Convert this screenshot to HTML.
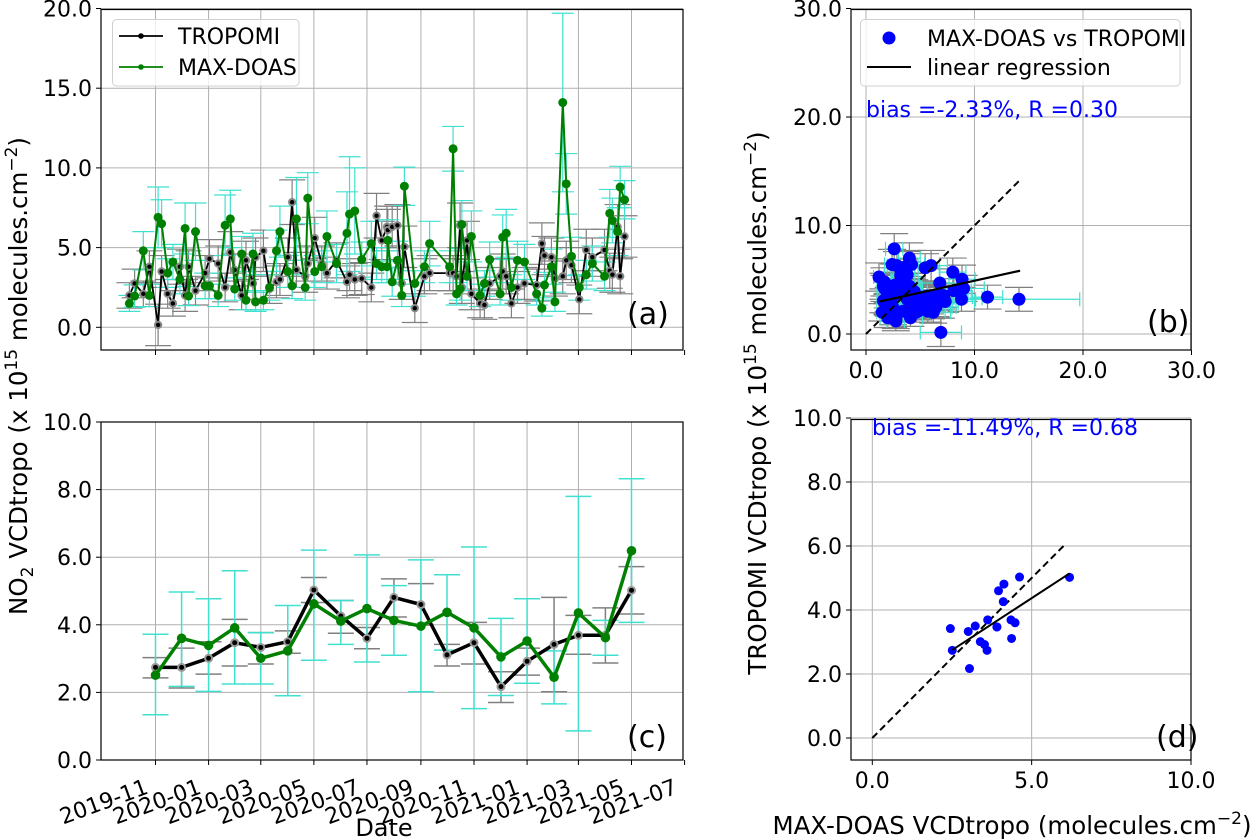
<!DOCTYPE html>
<html><head><meta charset="utf-8"><style>
html,body{margin:0;padding:0;background:#fff}
svg{display:block;font-family:"DejaVu Sans","Liberation Sans",sans-serif}
</style></head><body>
<svg id="fig" width="1258" height="839" viewBox="0 0 1258 839" xmlns="http://www.w3.org/2000/svg"></svg>
<script>
// ---------- data (day offsets from 2019-11-01) ----------
const dailyDays = [-30,-24,-14,-7,3,7,14,20,28,34,38,46,57,62,72,80,86,91,99,104,112,115,124,131,139,143,152,157,162,172,175,183,191,197,208,220,223,229,237,248,254,260,266,267,272,278,283,286,298,309,315,338,342,346,350,352,358,363,373,378,384,396,399,403,409,416,424,438,444,447,455,459,468,472,478,487,495,502,516,522,525,531,534,539];
const tropomiDaily = [2.0,2.75,2.1,3.8,0.15,3.5,2.1,1.5,3.8,2.0,3.8,2.3,3.4,4.3,4.0,2.5,4.7,3.6,2.0,4.2,2.75,4.4,4.8,2.4,2.85,3.0,4.4,7.85,3.6,3.2,4.0,5.6,4.0,3.4,4.2,2.85,3.3,3.0,3.06,2.5,7.0,5.45,6.3,6.1,6.3,6.4,2.75,5.05,1.2,3.2,3.4,3.4,3.4,3.2,6.4,2.5,5.45,2.1,1.5,1.4,2.75,3.2,3.5,3.2,1.5,2.5,2.75,2.65,5.25,4.5,4.4,3.06,3.2,4.2,3.9,1.75,4.85,4.4,4.85,3.55,3.3,6.3,3.2,5.7];
const maxdoasDaily = [1.5,1.96,4.8,2.0,6.9,6.5,3.4,4.1,3.0,6.2,1.96,6.0,2.6,2.6,2.0,6.4,6.8,2.4,4.6,1.7,4.6,1.6,1.7,2.5,4.8,6.0,3.5,2.6,6.8,2.5,8.1,3.5,3.8,5.7,4.0,5.9,7.1,7.3,4.25,5.25,4.0,3.8,3.8,5.45,2.85,4.2,2.0,8.85,2.75,3.8,5.25,3.8,11.2,2.1,2.4,6.45,3.2,5.7,2.0,2.75,4.25,2.1,5.65,5.9,2.5,4.2,4.1,2.1,1.2,2.65,3.8,1.6,14.1,9.0,4.45,2.5,3.3,4.0,3.2,7.15,6.7,6.0,8.8,8.0];
const tropomiDailyErr = [0.8,0.9,0.8,1.0,1.3,1.0,0.9,0.8,1.1,1.0,1.0,0.9,1.1,1.2,1.1,0.9,1.3,1.0,0.9,1.2,1.0,1.2,1.3,0.9,1.0,1.0,1.2,1.4,1.1,1.0,1.1,1.3,1.1,1.0,1.1,1.0,1.0,1.0,1.0,0.9,1.4,1.2,1.3,1.3,1.3,1.3,1.0,1.3,0.9,1.1,1.1,1.1,1.1,1.1,1.4,1.0,1.2,1.0,0.9,0.9,1.0,1.1,1.1,1.1,0.9,1.0,1.0,1.0,1.3,1.2,1.2,1.1,1.1,1.2,1.1,0.9,1.3,1.2,1.3,1.1,1.1,1.4,1.1,1.3];
const maxdoasDailyErr = [0.5,0.7,1.2,0.7,1.9,1.5,0.9,1.1,0.9,1.6,0.6,1.8,0.8,0.8,0.7,1.9,1.8,0.7,1.1,0.6,1.3,0.6,0.6,0.8,1.3,1.6,1.0,0.8,2.6,0.8,1.6,1.0,1.0,1.6,1.2,2.6,3.6,2.7,1.1,1.4,1.0,1.0,1.0,1.3,0.9,1.2,0.7,1.2,0.8,1.0,1.4,1.0,1.4,0.7,0.7,1.5,0.9,1.6,0.7,0.8,1.1,0.7,1.4,1.5,0.8,1.2,1.1,0.7,0.5,0.8,1.1,0.6,5.6,1.9,1.2,0.8,0.9,1.1,0.9,1.5,1.4,1.5,1.3,1.2];
const monthDays = [0,30,61,91,121,152,182,213,243,274,305,335,366,397,427,458,486,517,547];
const tropomiMonthly = [2.74,2.74,3.01,3.47,3.33,3.5,5.03,4.26,3.6,4.81,4.6,3.11,3.47,2.17,2.92,3.42,3.69,3.69,5.02];
const tropomiMonthlyUp = [3.03,3.31,3.5,4.16,3.77,3.82,5.4,4.72,3.92,5.36,5.22,3.42,4.07,2.61,3.31,4.81,4.28,4.5,5.72];
const tropomiMonthlyLo = [2.43,2.13,2.54,2.78,2.84,3.16,4.66,3.75,3.29,4.23,3.99,2.78,2.84,1.7,2.51,2.02,3.13,2.87,4.32];
const maxdoasMonthly = [2.51,3.6,3.39,3.91,3.01,3.23,4.62,4.11,4.48,4.13,3.96,4.37,3.91,3.05,3.52,2.45,4.35,3.62,6.19];
const maxdoasMonthlyUp = [3.72,4.97,4.77,5.6,3.77,4.57,6.21,4.72,6.07,5.16,5.92,5.48,6.3,4.19,4.77,3.23,7.8,4.13,8.32];
const maxdoasMonthlyLo = [1.34,2.18,2.03,2.25,2.25,1.9,2.95,3.42,2.9,3.1,2.02,3.25,1.52,1.91,2.27,1.66,0.86,3.1,4.07];
const dateTickDays = [0,61,121,182,243,305,366,427,486,547,608];
const dateTickLabels = ["2019-11","2020-01","2020-03","2020-05","2020-07","2020-09","2020-11","2021-01","2021-03","2021-05","2021-07"];
const ticksA = [0,5,10,15,20];
const ticksC = [0,2,4,6,8,10];
const ticksB = [0,10,20,30];
const ticksD = [0,5,10];
const ticksDy = [0,2,4,6,8,10];
const fitB = [1.2,14.2,0.219,2.72];   // xmin, xmax, slope, intercept
const fitD = [2.51,6.19,0.65,1.12];
const oneToOneB = [0,14.2];
const oneToOneD = [0,6.0];

// ---------- axes ----------
const xDate = d => 155.5 + d*0.8702;
const yA = v => 327.3 - v*15.94;
const yC = v => 760 - v*33.8;
const xB = v => 866 + v*10.85, yB = v => 334 - v*10.85;
const xD = v => 872.3 + v*31.87, yD = v => 738 - v*32;
const boxA=[101,9.5,683,350], boxC=[101,422,683,760], boxB=[851,9.5,1191,350], boxD=[851,419.5,1191,760];
const FS=22;

const NS="http://www.w3.org/2000/svg";
const svg=document.getElementById('fig');
function mk(tag,attrs,parent){const e=document.createElementNS(NS,tag);for(const k in attrs)e.setAttribute(k,attrs[k]);(parent||svg).appendChild(e);return e;}
function txt(s,attrs,parent){const e=mk('text',attrs,parent);e.textContent=s;return e;}

let clipN=0;
function panel(box,name){
  const g=mk('g',{});
  
  
  const id='clip'+(clipN++);
  const cp=mk('clipPath',{id:id},g);
  mk('rect',{x:box[0],y:box[1],width:box[2]-box[0],height:box[3]-box[1]},cp);
  const grid=mk('g',{},g);
  
  
  const data=mk('g',{'clip-path':'url(#'+id+')'},g);
  return {g,grid,data,box};
}
function gridX(p,xs,fx){xs.forEach(v=>{const x=fx(v);if(x>=p.box[0]-0.5&&x<=p.box[2]+0.5){const l=mk('line',{x1:x,x2:x,y1:p.box[1],y2:p.box[3],stroke:'#b0b0b0','stroke-width':1},p.grid);}
  mk('line',{x1:x,x2:x,y1:p.box[3],y2:p.box[3]+5,stroke:'#000','stroke-width':1},p.g);});}
function gridY(p,ys,fy){ys.forEach(v=>{const y=fy(v);const l=mk('line',{x1:p.box[0],x2:p.box[2],y1:y,y2:y,stroke:'#b0b0b0','stroke-width':1},p.grid);
  mk('line',{x1:p.box[0]-5,x2:p.box[0],y1:y,y2:y,stroke:'#000','stroke-width':1},p.g);
  const t=txt(v.toFixed(1),{x:p.box[0]-9,y:y+8,'font-size':FS,'text-anchor':'end',fill:'#000'},p.g);});}
function frame(p){const r=mk('rect',{x:p.box[0],y:p.box[1],width:p.box[2]-p.box[0],height:p.box[3]-p.box[1],fill:'none',stroke:'#000','stroke-width':1.2},p.g);}
function vbar(parent,x,y1,y2,cw,col,sw){mk('line',{x1:x,x2:x,y1:y1,y2:y2,stroke:col,'stroke-width':sw},parent);mk('line',{x1:x-cw,x2:x+cw,y1:y1,y2:y1,stroke:col,'stroke-width':sw},parent);mk('line',{x1:x-cw,x2:x+cw,y1:y2,y2:y2,stroke:col,'stroke-width':sw},parent);}
function hbar(parent,y,x1,x2,ch,col,sw){mk('line',{x1:x1,x2:x2,y1:y,y2:y,stroke:col,'stroke-width':sw},parent);mk('line',{x1:x1,x2:x1,y1:y-ch,y2:y+ch,stroke:col,'stroke-width':sw},parent);mk('line',{x1:x2,x2:x2,y1:y-ch,y2:y+ch,stroke:col,'stroke-width':sw},parent);}
function poly(parent,xs,ys,col,w,name){const pts=xs.map((x,i)=>x.toFixed(1)+','+ys[i].toFixed(1)).join(' ');const e=mk('polyline',{points:pts,fill:'none',stroke:col,'stroke-width':w,'stroke-linejoin':'round'},parent);return e;}

// ---------- panel (a) ----------
const pa=panel(boxA,'panel-a-daily-timeseries');
gridX(pa,dateTickDays,xDate); gridY(pa,ticksA,yA);
const ebA=mk('g',{},pa.data);


dailyDays.forEach((d,i)=>{vbar(ebA,xDate(d),yA(tropomiDaily[i]+tropomiDailyErr[i]),yA(tropomiDaily[i]-tropomiDailyErr[i]),13,'#808080',1.2);});
dailyDays.forEach((d,i)=>{vbar(ebA,xDate(d),yA(maxdoasDaily[i]+maxdoasDailyErr[i]),yA(maxdoasDaily[i]-maxdoasDailyErr[i]),11,'#40e0d0',1.2);});
const xsA=dailyDays.map(xDate);
poly(pa.data,xsA,tropomiDaily.map(yA),'#000',1.8,'tropomi-daily-line');
dailyDays.forEach((d,i)=>{const c=mk('circle',{cx:xDate(d),cy:yA(tropomiDaily[i]),r:3.2,fill:'#000',stroke:'#888','stroke-width':2},pa.data);});
poly(pa.data,xsA,maxdoasDaily.map(yA),'#008000',2,'maxdoas-daily-line');
dailyDays.forEach((d,i)=>{const c=mk('circle',{cx:xDate(d),cy:yA(maxdoasDaily[i]),r:4.5,fill:'#008000'},pa.data);});
frame(pa);
const legA=mk('g',{},pa.g);


mk('rect',{x:112.5,y:19.5,width:186.5,height:66.5,rx:4,fill:'#fff','fill-opacity':0.8,stroke:'#d0d0d0','stroke-width':1},legA);
mk('line',{x1:119,x2:163,y1:36,y2:36,stroke:'#000','stroke-width':1.8},legA);mk('circle',{cx:141,cy:36,r:2.8,fill:'#000'},legA);
txt('TROPOMI',{x:178,y:44,'font-size':FS},legA);
mk('line',{x1:119,x2:163,y1:67,y2:67,stroke:'#008000','stroke-width':1.8},legA);mk('circle',{cx:141,cy:67,r:2.8,fill:'#008000'},legA);
txt('MAX-DOAS',{x:178,y:75,'font-size':FS},legA);
txt('(a)',{x:627,y:324,'font-size':30},pa.g);

// ---------- panel (c) ----------
const pc=panel(boxC,'panel-c-monthly-timeseries');
gridX(pc,dateTickDays,xDate); gridY(pc,ticksC,yC);
const ebC=mk('g',{},pc.data);


monthDays.forEach((d,i)=>vbar(ebC,xDate(d),yC(tropomiMonthlyUp[i]),yC(tropomiMonthlyLo[i]),13,'#808080',1.5));
monthDays.forEach((d,i)=>vbar(ebC,xDate(d),yC(maxdoasMonthlyUp[i]),yC(maxdoasMonthlyLo[i]),13,'#40e0d0',1.5));
const xsC=monthDays.map(xDate);
poly(pc.data,xsC,tropomiMonthly.map(yC),'#000',3.5,'tropomi-monthly-line');
monthDays.forEach((d,i)=>{const c=mk('circle',{cx:xDate(d),cy:yC(tropomiMonthly[i]),r:3.5,fill:'#000',stroke:'#999','stroke-width':2},pc.data);});
poly(pc.data,xsC,maxdoasMonthly.map(yC),'#008000',3.5,'maxdoas-monthly-line');
monthDays.forEach((d,i)=>{const c=mk('circle',{cx:xDate(d),cy:yC(maxdoasMonthly[i]),r:4.8,fill:'#008000'},pc.data);});
frame(pc);
txt('(c)',{x:627,y:747,'font-size':30},pc.g);
dateTickDays.forEach((d,i)=>{const x=xDate(d);const t=txt(dateTickLabels[i],{x:x-6,y:793,'font-size':FS,'text-anchor':'end',transform:'rotate(-20 '+(x-6)+' 793)'},pc.g);});
const dl=txt('Date',{x:384,y:836,'font-size':24,'text-anchor':'middle'});



// ---------- panel (b) ----------
const pb=panel(boxB,'panel-b-daily-scatter');
gridX(pb,ticksB,xB); gridY(pb,ticksB,yB);
ticksB.forEach(v=>{const t=txt(v.toFixed(1),{x:xB(v),y:378,'font-size':FS,'text-anchor':'middle'},pb.g);});
const ebB=mk('g',{},pb.data);


maxdoasDaily.forEach((m,i)=>vbar(ebB,xB(m),yB(tropomiDaily[i]+tropomiDailyErr[i]),yB(tropomiDaily[i]-tropomiDailyErr[i]),14,'#808080',1.2));
maxdoasDaily.forEach((m,i)=>hbar(ebB,yB(tropomiDaily[i]),xB(m-maxdoasDailyErr[i]),xB(m+maxdoasDailyErr[i]),7,'#40e0d0',1.2));
maxdoasDaily.forEach((m,i)=>{const c=mk('circle',{cx:xB(m),cy:yB(tropomiDaily[i]),r:6.5,fill:'#0000ff'},pb.data);});
const l1b=mk('line',{x1:xB(oneToOneB[0]),y1:yB(oneToOneB[0]),x2:xB(oneToOneB[1]),y2:yB(oneToOneB[1]),stroke:'#000','stroke-width':2,'stroke-dasharray':'7,4'},pb.data);


const rb=mk('line',{x1:xB(fitB[0]),y1:yB(fitB[3]+fitB[2]*fitB[0]),x2:xB(fitB[1]),y2:yB(fitB[3]+fitB[2]*fitB[1]),stroke:'#000','stroke-width':2.2},pb.data);


frame(pb);
const legB=mk('g',{},pb.g);


mk('rect',{x:860.5,y:19.5,width:319.5,height:66.5,rx:4,fill:'#fff','fill-opacity':0.8,stroke:'#d0d0d0','stroke-width':1},legB);
mk('circle',{cx:889,cy:38,r:6.5,fill:'#0000ff'},legB);
txt('MAX-DOAS vs TROPOMI',{x:927,y:46,'font-size':FS},legB);
mk('line',{x1:867,x2:911,y1:67,y2:67,stroke:'#000','stroke-width':2},legB);
txt('linear regression',{x:927,y:75,'font-size':FS},legB);
const bb=txt('bias =-2.33%, R =0.30',{x:866,y:117,'font-size':FS,fill:'#0000ff'},pb.g);


txt('(b)',{x:1147,y:332,'font-size':30},pb.g);

// ---------- panel (d) ----------
const pd=panel(boxD,'panel-d-monthly-scatter');
gridX(pd,ticksD,xD); gridY(pd,ticksDy,yD);
ticksD.forEach(v=>{const t=txt(v.toFixed(1),{x:xD(v),y:788,'font-size':FS,'text-anchor':'middle'},pd.g);});
const l1d=mk('line',{x1:xD(oneToOneD[0]),y1:yD(oneToOneD[0]),x2:xD(oneToOneD[1]),y2:yD(oneToOneD[1]),stroke:'#000','stroke-width':2,'stroke-dasharray':'7,4'},pd.data);


maxdoasMonthly.forEach((m,i)=>{const c=mk('circle',{cx:xD(m),cy:yD(tropomiMonthly[i]),r:4.5,fill:'#0000ff'},pd.data);});
const rd=mk('line',{x1:xD(fitD[0]),y1:yD(fitD[3]+fitD[2]*fitD[0]),x2:xD(fitD[1]),y2:yD(fitD[3]+fitD[2]*fitD[1]),stroke:'#000','stroke-width':2},pd.data);


frame(pd);
const bd=txt('bias =-11.49%, R =0.68',{x:872,y:435,'font-size':FS,fill:'#0000ff'},pd.g);


txt('(d)',{x:1156,y:747,'font-size':30},pd.g);

// ---------- axis titles ----------
const yl=txt('',{x:0,y:0,'font-size':24.5,'text-anchor':'middle',transform:'translate(27 376) rotate(-90)'});


yl.innerHTML='NO<tspan font-size="17" dy="6">2</tspan><tspan dy="-6"> VCDtropo (x 10</tspan><tspan font-size="17" dy="-10">15</tspan><tspan dy="10"> molecules.cm</tspan><tspan font-size="17" dy="-10">−2</tspan><tspan dy="10">)</tspan>';
const yr=txt('',{x:0,y:0,'font-size':24.5,'text-anchor':'middle',transform:'translate(766 403) rotate(-90)'});


yr.innerHTML='TROPOMI VCDtropo (x 10<tspan font-size="17" dy="-10">15</tspan><tspan dy="10"> molecules.cm</tspan><tspan font-size="17" dy="-10">−2</tspan><tspan dy="10">)</tspan>';
const xr=txt('',{x:1012,y:834,'font-size':24.5,'text-anchor':'middle'});


xr.innerHTML='MAX-DOAS VCDtropo (molecules.cm<tspan font-size="17" dy="-10">−2</tspan><tspan dy="10">)</tspan>';
</script>
</body></html>
